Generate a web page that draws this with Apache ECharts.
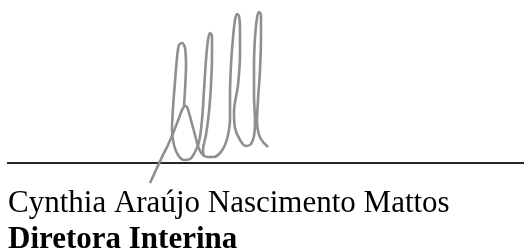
<!DOCTYPE html>
<html>
<head>
<meta charset="utf-8">
<script src="https://cdn.jsdelivr.net/npm/echarts@6/dist/echarts.min.js"></script>
<style>
html,body{margin:0;padding:0;background:#fff;}
#c{width:524px;height:249px;}
</style>
</head>
<body>
<div id="c"></div>
<script>
// Signature strokes (x, y)
var strokeTail = [[150,183],[156,170],[162,157],[168,145],[174,131],[179,118],[183,108],[186,106],[189,113],[192,124],[195,135],[198,146],[202,154],[208,157],[214,157],[220,153],[225,145],[228,135],[230,120],[230,95],[231,65],[233,38],[235,20],[237,14],[239,16],[240,28],[240,55],[238,85],[234,112],[235,128],[240,140],[246,146],[251,144],[254,136],[255,122],[254,95],[254,65],[255,38],[257,18],[259,12],[261,15],[261,35],[260,70],[258,100],[257,122],[259,135],[263,142],[268,147]];
var strokeLoops = [[184,106],[185,90],[186,65],[185,48],[182,43],[179,45],[177,58],[175,82],[173,108],[172,130],[174,145],[178,155],[184,160],[190,159],[195,152],[199,142],[202,120],[204,90],[206,60],[208,40],[210,33],[212,36],[212,55],[211,85],[209,112],[206,135],[203,150],[204,157]];
var baseLine = [[7,163],[524,163]];
var nameText = 'Cynthia Araújo Nascimento Mattos';
var roleText = 'Diretora Interina';

var chart = echarts.init(document.getElementById('c'));
function strokeSeries(d){
  return {type:'line', data:d, smooth:0.35, showSymbol:false, symbol:'none', silent:true,
    lineStyle:{color:'#8f8f8f', width:2.6}, animation:false};
}
chart.setOption({
  animation:false,
  backgroundColor:'#ffffff',
  grid:{left:0,right:0,top:0,bottom:0},
  xAxis:{type:'value',min:0,max:524,show:false},
  yAxis:{type:'value',min:0,max:249,inverse:true,show:false},
  series:[
    {type:'line', data:baseLine, showSymbol:false, symbol:'none', silent:true,
      lineStyle:{color:'#262626', width:1.8}, animation:false},
    strokeSeries(strokeTail),
    strokeSeries(strokeLoops)
  ],
  graphic:[
    {type:'text', x:8, y:204, style:{text:nameText, font:'31px "Liberation Serif", "Times New Roman", serif', fill:'#000', verticalAlign:'middle', align:'left'}},
    {type:'text', x:8, y:240, style:{text:roleText, font:'bold 31px "Liberation Serif", "Times New Roman", serif', fill:'#000', verticalAlign:'middle', align:'left'}}
  ]
});
</script>
</body>
</html>
